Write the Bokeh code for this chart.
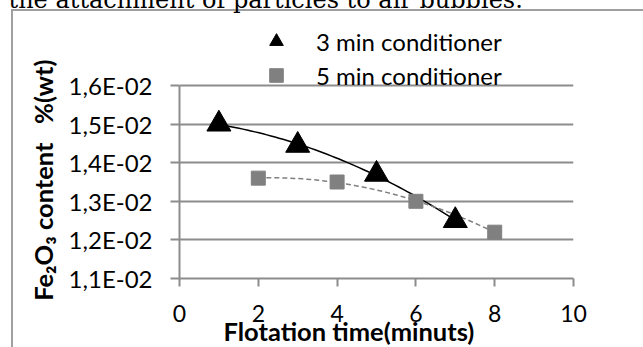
import numpy as np
from bokeh.plotting import figure
from bokeh.models import (FixedTicker, CustomJSTickFormatter, Legend, LegendItem,
                          Title, Range1d)
from bokeh.embed import file_html
from bokeh.resources import INLINE

# ---- data ----
time_3min = [1, 3, 5, 7]
fe2o3_3min = [0.0150, 0.01445, 0.0137, 0.0125]
time_5min = [2, 4, 6, 8]
fe2o3_5min = [0.0136, 0.0135, 0.0130, 0.0122]
series_names = ["3 min conditioner", "5 min conditioner"]
x_ticks = [0, 2, 4, 6, 8, 10]
y_ticks = [0.011, 0.012, 0.013, 0.014, 0.015, 0.016]
x_title = "Flotation time(minuts)"
y_title = "Fe\u2082O\u2083 content\u00a0\u00a0 %(wt)"
page_text = "the attachment of particles to air bubbles."

W, H = 643, 347
FONT = "Lato"
GRAY = "#8c8c8c"
BORDER = "#a0a0a0"

# pixel geometry of the plotting area (inside the figure)
FRAME_H = 278          # frame spans from the top of the figure down to the x axis
AXIS_TOP_PX = 85       # where the highest y tick sits
y_end = y_ticks[0] + (y_ticks[-1] - y_ticks[0]) * FRAME_H / (FRAME_H - AXIS_TOP_PX)

p = figure(width=W, height=H, output_backend="svg", toolbar_location=None,
           x_range=Range1d(x_ticks[0], x_ticks[-1]),
           y_range=Range1d(y_ticks[0], y_end),
           min_border_left=179, min_border_right=70,
           min_border_top=0, min_border_bottom=H - FRAME_H)
p.title.visible = False
p.outline_line_color = None
p.background_fill_color = None
p.border_fill_color = None
p.styles = {
    "background": (f"linear-gradient({BORDER},{BORDER}) 11px 9px / 2px 100% no-repeat, "
                   f"linear-gradient({BORDER},{BORDER}) 11px 9px / 100% 2px no-repeat, white")
}

# grid
p.xgrid.grid_line_color = None
p.ygrid.grid_line_color = GRAY
p.ygrid.grid_line_width = 2
p.ygrid.ticker = FixedTicker(ticks=y_ticks)

# axes
p.xaxis.ticker = FixedTicker(ticks=x_ticks)
p.yaxis.ticker = FixedTicker(ticks=y_ticks)
p.yaxis.bounds = (y_ticks[0], y_ticks[-1])
p.yaxis.formatter = CustomJSTickFormatter(code="""
    var s = tick.toExponential(1).split('e');
    var m = s[0].replace('.', ',');
    var e = parseInt(s[1]);
    var a = Math.abs(e);
    return m + 'E' + (e < 0 ? '-' : '+') + (a < 10 ? '0' : '') + a;
""")
for ax in (p.xaxis, p.yaxis):
    ax.axis_line_color = GRAY
    ax.axis_line_width = 2
    ax.major_tick_line_color = GRAY
    ax.major_tick_line_width = 2
    ax.major_tick_in = 0
    ax.minor_tick_line_color = None
    ax.major_label_text_font = FONT
    ax.major_label_text_color = "black"
p.yaxis.major_label_text_font_size = "24px"
p.xaxis.major_label_text_font_size = "23px"
p.xaxis.major_tick_out = 8
p.yaxis.major_tick_out = 9
p.yaxis.major_label_standoff = 18
p.xaxis.major_label_standoff = 18

# axis titles
p.add_layout(Title(text=y_title, align="right", offset=59, vertical_align="middle",
                   standoff=13, text_font=FONT, text_font_style="bold",
                   text_font_size="25.5px", text_color="black"), "left")
p.add_layout(Title(text=x_title, align="left", offset=44, vertical_align="middle",
                   standoff=-19, text_font=FONT, text_font_style="bold",
                   text_font_size="25.5px", text_color="black"), "below")

# surrounding document text, cut off at the top edge
p.add_layout(Title(text=page_text, align="left", offset=-171, vertical_align="top",
                   standoff=-30, text_font="DejaVu Serif", text_font_style="normal",
                   text_font_size="24px", text_color="black"), "above")

# trend lines (quadratic fits of the series)
def trend(xs, ys):
    c = np.polyfit(xs, ys, 2)
    xx = np.linspace(min(xs), max(xs), 60)
    return xx, np.polyval(c, xx)

tx1, ty1 = trend(time_3min, fe2o3_3min)
tx2, ty2 = trend(time_5min, fe2o3_5min)
p.line(tx1, ty1, line_color="black", line_width=1.5)
p.line(tx2, ty2, line_color="#808080", line_width=1.5, line_dash="5 3")

r1 = p.scatter(time_3min, fe2o3_3min, marker="triangle", size=24,
               fill_color="black", line_color="black")
r2 = p.scatter(time_5min, fe2o3_5min, marker="square", size=14,
               fill_color="#808080", line_color="#808080")

legend = Legend(items=[LegendItem(label=series_names[0], renderers=[r1]),
                       LegendItem(label=series_names[1], renderers=[r2])],
                location=(80, 186), orientation="vertical",
                glyph_width=34, glyph_height=34, spacing=0,
                label_standoff=23, padding=0, margin=0,
                background_fill_alpha=0, border_line_color=None,
                label_text_font=FONT, label_text_font_size="24px",
                label_text_color="black")
p.add_layout(legend, "center")

open("out.html", "w").write(file_html(p, INLINE))
